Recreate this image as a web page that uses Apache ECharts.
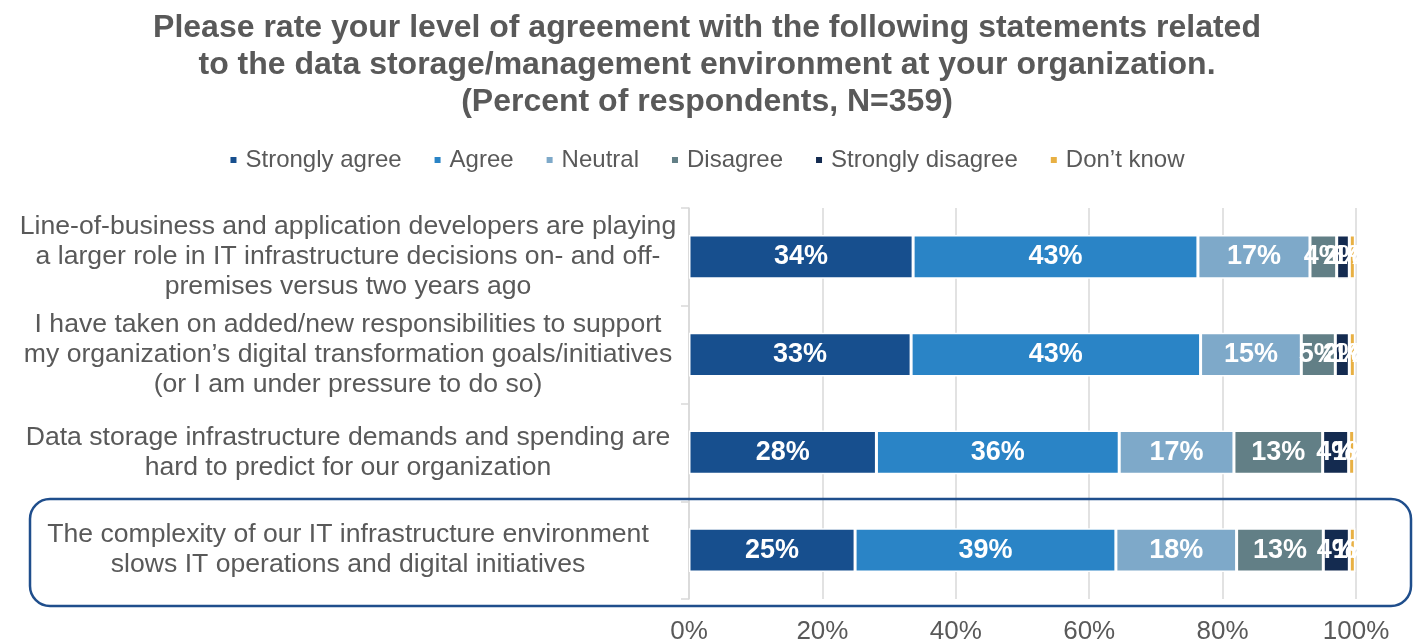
<!DOCTYPE html>
<html>
<head>
<meta charset="utf-8">
<script src="https://cdn.jsdelivr.net/npm/echarts@6/dist/echarts.min.js"></script>
<style>
html,body{margin:0;padding:0;background:#fff;}
#chart{width:1413px;height:642px;}
</style>
</head>
<body>
<div id="chart"></div>
<script>
var categories = [
  "Line-of-business and application developers are playing\na larger role in IT infrastructure decisions on- and off-\npremises versus two years ago",
  "I have taken on added/new responsibilities to support\nmy organization\u2019s digital transformation goals/initiatives\n(or I am under pressure to do so)",
  "Data storage infrastructure demands and spending are\nhard to predict for our organization",
  "The complexity of our IT infrastructure environment\nslows IT operations and digital initiatives"
];
var seriesNames = ["Strongly agree", "Agree", "Neutral", "Disagree", "Strongly disagree", "Don\u2019t know"];
var stronglyAgree = [33.6, 33.3, 28.1, 24.9];
var agree = [42.7, 43.4, 36.4, 39.1];
var neutral = [16.8, 15.1, 17.2, 18.1];
var disagree = [4.0, 5.1, 13.3, 13.0];
var stronglyDisagree = [1.9, 2.1, 3.9, 3.9];
var dontKnow = [0.9, 0.9, 0.9, 0.9];
var xTicks = [0, 20, 40, 60, 80, 100];
var colors = ["#174f8e", "#2a84c6", "#7ea9c9", "#627f86", "#142b50", "#e8b043"];

var values = [stronglyAgree, agree, neutral, disagree, stronglyDisagree, dontKnow];
var FONT = "Liberation Sans, Arial, sans-serif";

var chart = echarts.init(document.getElementById('chart'));
var series = seriesNames.map(function (name, i) {
  return {
    name: name,
    type: 'bar',
    stack: 'total',
    barWidth: '45%',
    data: values[i],
    itemStyle: { color: colors[i], borderColor: '#ffffff', borderWidth: 1.5 },
    label: {
      show: true,
      position: 'inside',
      color: '#ffffff',
      fontFamily: FONT,
      fontWeight: 'bold',
      fontSize: 27,
      formatter: function (p) { return Math.round(p.value) + '%'; }
    },
    emphasis: { disabled: true }
  };
});

chart.setOption({
  animation: false,
  color: colors,
  title: {
    text: 'Please rate your level of agreement with the following statements related\nto the data storage/management environment at your organization.\n(Percent of respondents, N=359)',
    left: 702,
    top: 5,
    textAlign: 'center',
    textStyle: { fontFamily: FONT, fontWeight: 'bold', fontSize: 32, lineHeight: 37, color: '#595959', align: 'center' }
  },
  legend: {
    top: 143,
    left: 'center',
    icon: 'rect',
    itemWidth: 8,
    itemHeight: 8,
    itemGap: 31,
    textStyle: { fontFamily: FONT, fontSize: 24, color: '#595959', padding: [0, 0, 0, 3] },
    data: seriesNames
  },
  grid: { left: 689, right: 57, top: 208, bottom: 43, containLabel: false, outerBoundsMode: 'none' },
  xAxis: {
    type: 'value',
    min: 0,
    max: 100,
    interval: 20,
    axisLine: { show: false },
    axisTick: { show: false },
    splitLine: { show: true, lineStyle: { color: '#d9d9d9', width: 1.5 } },
    axisLabel: {
      fontFamily: FONT, fontSize: 26, color: '#595959', margin: 20,
      formatter: function (v) { return xTicks.indexOf(v) >= 0 ? v + '%' : ''; }
    }
  },
  yAxis: {
    type: 'category',
    inverse: true,
    data: categories,
    axisLine: { show: true, lineStyle: { color: '#d9d9d9', width: 1.5 } },
    axisTick: { show: true, length: 8, lineStyle: { color: '#d9d9d9', width: 1.5 } },
    axisLabel: {
      fontFamily: FONT, fontSize: 26.6, lineHeight: 30, color: '#595959',
      align: 'center', margin: 341
    }
  },
  graphic: [{
    type: 'rect',
    z: 100,
    silent: true,
    shape: { x: 30, y: 499, width: 1381, height: 107, r: 20 },
    style: { fill: 'none', stroke: '#1f4e8c', lineWidth: 2.5 }
  }],
  series: series
});
</script>
</body>
</html>
